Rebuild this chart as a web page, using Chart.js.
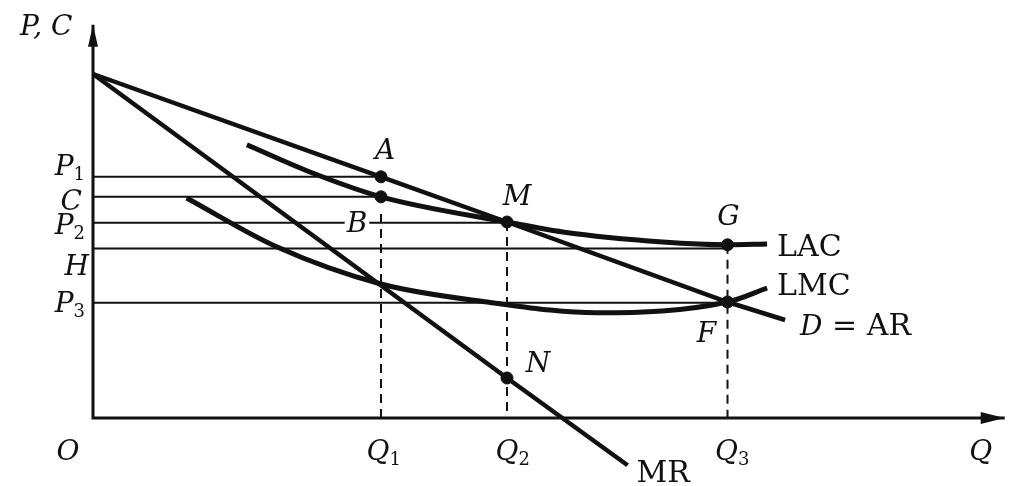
<!DOCTYPE html>
<html>
<head>
<meta charset="utf-8">
<script src="https://cdn.jsdelivr.net/npm/chart.js@4.4.0/dist/chart.umd.min.js"></script>
<style>
  html, body { margin: 0; padding: 0; background: #fff; }
  #wrap { width: 1013px; height: 486px; }
</style>
</head>
<body>
<div id="wrap"><canvas id="chart"></canvas></div>
<script>
// quantities and price levels
const qNames = ['Q1', 'Q2', 'Q3'];
const qValues = [3.2, 4.6, 7.05];
const pNames = ['P1', 'C', 'P2', 'H', 'P3'];
const pValues = [6.03, 5.53, 4.88, 4.24, 2.88];

// demand (AR) and marginal revenue
const arQ = [0, 3.2, 4.6, 7.05, 7.69];
const arP = [8.6, 6.03, 4.9, 2.9, 2.45];
const mrQ = [0, 4.6, 5.94];
const mrP = [8.6, 1.0, -1.18];

// long run cost curves
const lacQ = [1.71, 2.41, 3.2, 4.6, 5.22, 6.33, 7.05, 7.49];
const lacP = [6.83, 6.15, 5.53, 4.9, 4.65, 4.4, 4.33, 4.35];
const lmcQ = [1.04, 2.04, 3.2, 4.38, 5.6, 7.05, 7.49];
const lmcP = [5.5, 4.28, 3.35, 2.9, 2.63, 2.9, 3.25];

// marked points
const dotNames = ['A', 'C', 'M', 'G', 'F', 'N'];
const dotQ = [3.2, 3.2, 4.6, 7.05, 7.05, 4.6];
const dotP = [6.03, 5.53, 4.9, 4.33, 2.9, 1.0];

// guide lines: horizontal ones end at these Q, dashed ones start at these P
const guideEnd = [3.2, 3.2, 4.6, 7.05, 7.05];
const dashTop = [5.1, 4.9, 4.33];

const axisQmax = 10.13;
const axisPmax = 9.83;

const ink = '#111';
const xy = (qs, ps) => qs.map((q, i) => ({ x: q, y: ps[i] }));

const datasets = [];
datasets.push({ data: [{ x: 0, y: axisPmax }, { x: 0, y: 0 }, { x: axisQmax, y: 0 }], borderWidth: 3 });
pValues.forEach((p, i) => {
    datasets.push({ data: [{ x: 0, y: p }, { x: guideEnd[i], y: p }], borderWidth: 2 });
});
qValues.forEach((q, i) => {
    datasets.push({ data: [{ x: q, y: dashTop[i] }, { x: q, y: 0 }], borderWidth: 2, borderDash: [9, 6] });
});
datasets.push({ data: xy(arQ, arP), borderWidth: 4.5 });
datasets.push({ data: xy(mrQ, mrP), borderWidth: 4.5 });
datasets.push({ data: xy(lacQ, lacP), borderWidth: 5, cubicInterpolationMode: 'monotone' });
datasets.push({ data: xy(lmcQ, lmcP), borderWidth: 5, cubicInterpolationMode: 'monotone' });
datasets.forEach(d => {
    d.showLine = true;
    d.pointRadius = 0;
    d.borderColor = ink;
    d.fill = false;
});
datasets.push({ data: xy(dotQ, dotP), showLine: false, pointRadius: 6, backgroundColor: ink, borderColor: ink });

const ital = 'italic 28px "DejaVu Serif"';
const sub = '18px "DejaVu Serif"';
const rom = '30px "DejaVu Serif"';
const dot = name => [dotQ[dotNames.indexOf(name)], dotP[dotNames.indexOf(name)]];

// text labels, anchored on data values with a pixel offset
const labels = [
    { at: [0, axisPmax], dx: -73, dy: 10, align: 'left', parts: [['P, C', ital]] },
    { at: [0, 0], dx: -25, dy: 42, align: 'center', parts: [['O', ital]] },
    { at: [axisQmax, 0], dx: -24, dy: 42, align: 'center', parts: [['Q', ital]] },
    { at: [0, pValues[0]], dx: -8, dy: -2, align: 'right', parts: [['P', ital], ['1', sub]] },
    { at: [0, pValues[1]], dx: -11, dy: 13, align: 'right', parts: [['C', ital]] },
    { at: [0, pValues[2]], dx: -8, dy: 11, align: 'right', parts: [['P', ital], ['2', sub]] },
    { at: [0, pValues[3]], dx: -4, dy: 27, align: 'right', parts: [['H', ital]] },
    { at: [0, pValues[4]], dx: -8, dy: 9, align: 'right', parts: [['P', ital], ['3', sub]] },
    { at: [qValues[0], 0], dx: -3, dy: 42, align: 'center', parts: [['Q', ital], ['1', sub]] },
    { at: [qValues[1], 0], dx: 0, dy: 42, align: 'center', parts: [['Q', ital], ['2', sub]] },
    { at: [qValues[2], 0], dx: -1, dy: 42, align: 'center', parts: [['Q', ital], ['3', sub]] },
    { at: dot('A'), dx: 4, dy: -18, align: 'center', parts: [['A', ital]] },
    { at: dot('M'), dx: 10, dy: -17, align: 'center', parts: [['M', ital]] },
    { at: dot('G'), dx: 1, dy: -20, align: 'center', parts: [['G', ital]] },
    { at: dot('F'), dx: -21, dy: 40, align: 'center', parts: [['F', ital]] },
    { at: dot('N'), dx: 31, dy: -6, align: 'center', parts: [['N', ital]] },
    { at: [qValues[0], pValues[2]], dx: -24, dy: 9, align: 'center', parts: [['B', ital]], bg: true },
    { at: [lacQ[lacQ.length - 1], lacP[lacP.length - 1]], dx: 10, dy: 12, align: 'left', parts: [['LAC', rom]] },
    { at: [lmcQ[lmcQ.length - 1], lmcP[lmcP.length - 1]], dx: 10, dy: 7, align: 'left', parts: [['LMC', rom]] },
    { at: [arQ[arQ.length - 1], arP[arP.length - 1]], dx: 15, dy: 15, align: 'left', parts: [['D', ital], [' = AR', rom]] },
    { at: [mrQ[mrQ.length - 1], mrP[mrP.length - 1]], dx: 9, dy: 17, align: 'left', parts: [['MR', rom]] }
];

const drawings = {
    id: 'drawings',
    afterDatasetsDraw(chart) {
        const ctx = chart.ctx;
        const sx = chart.scales.x, sy = chart.scales.y;
        ctx.save();
        ctx.fillStyle = ink;

        // arrow heads
        const tx = sx.getPixelForValue(0), ty = sy.getPixelForValue(axisPmax);
        ctx.beginPath();
        ctx.moveTo(tx, ty);
        ctx.lineTo(tx - 5, ty + 22);
        ctx.lineTo(tx + 5, ty + 22);
        ctx.closePath();
        ctx.fill();
        const ax = sx.getPixelForValue(axisQmax), ay = sy.getPixelForValue(0);
        ctx.beginPath();
        ctx.moveTo(ax, ay);
        ctx.lineTo(ax - 24, ay - 6);
        ctx.lineTo(ax - 24, ay + 6);
        ctx.closePath();
        ctx.fill();

        // labels
        ctx.textBaseline = 'alphabetic';
        ctx.textAlign = 'left';
        labels.forEach(l => {
            const widths = l.parts.map(p => { ctx.font = p[1]; return ctx.measureText(p[0]).width; });
            const total = widths.reduce((a, b) => a + b, 0);
            let x = sx.getPixelForValue(l.at[0]) + l.dx;
            const y = sy.getPixelForValue(l.at[1]) + l.dy;
            if (l.align === 'right') x -= total;
            if (l.align === 'center') x -= widths[0] / 2;
            if (l.bg) {
                ctx.fillStyle = '#fff';
                ctx.fillRect(x - 2, y - 20, total + 4, 24);
                ctx.fillStyle = ink;
            }
            l.parts.forEach((p, i) => {
                ctx.font = p[1];
                ctx.fillText(p[0], x, y + (p[1] === sub ? 5 : 0));
                x += widths[i];
            });
        });
        ctx.restore();
    }
};

new Chart(document.getElementById('chart'), {
    type: 'scatter',
    data: { datasets: datasets },
    options: {
        responsive: true,
        maintainAspectRatio: false,
        animation: false,
        layout: { padding: 0, autoPadding: false },
        plugins: {
            legend: { display: false },
            tooltip: { enabled: false }
        },
        scales: {
            x: { type: 'linear', min: -1.0333, max: 10.2222, display: false },
            y: { type: 'linear', min: -1.7, max: 10.45, display: false }
        }
    },
    plugins: [drawings]
});
</script>
</body>
</html>
